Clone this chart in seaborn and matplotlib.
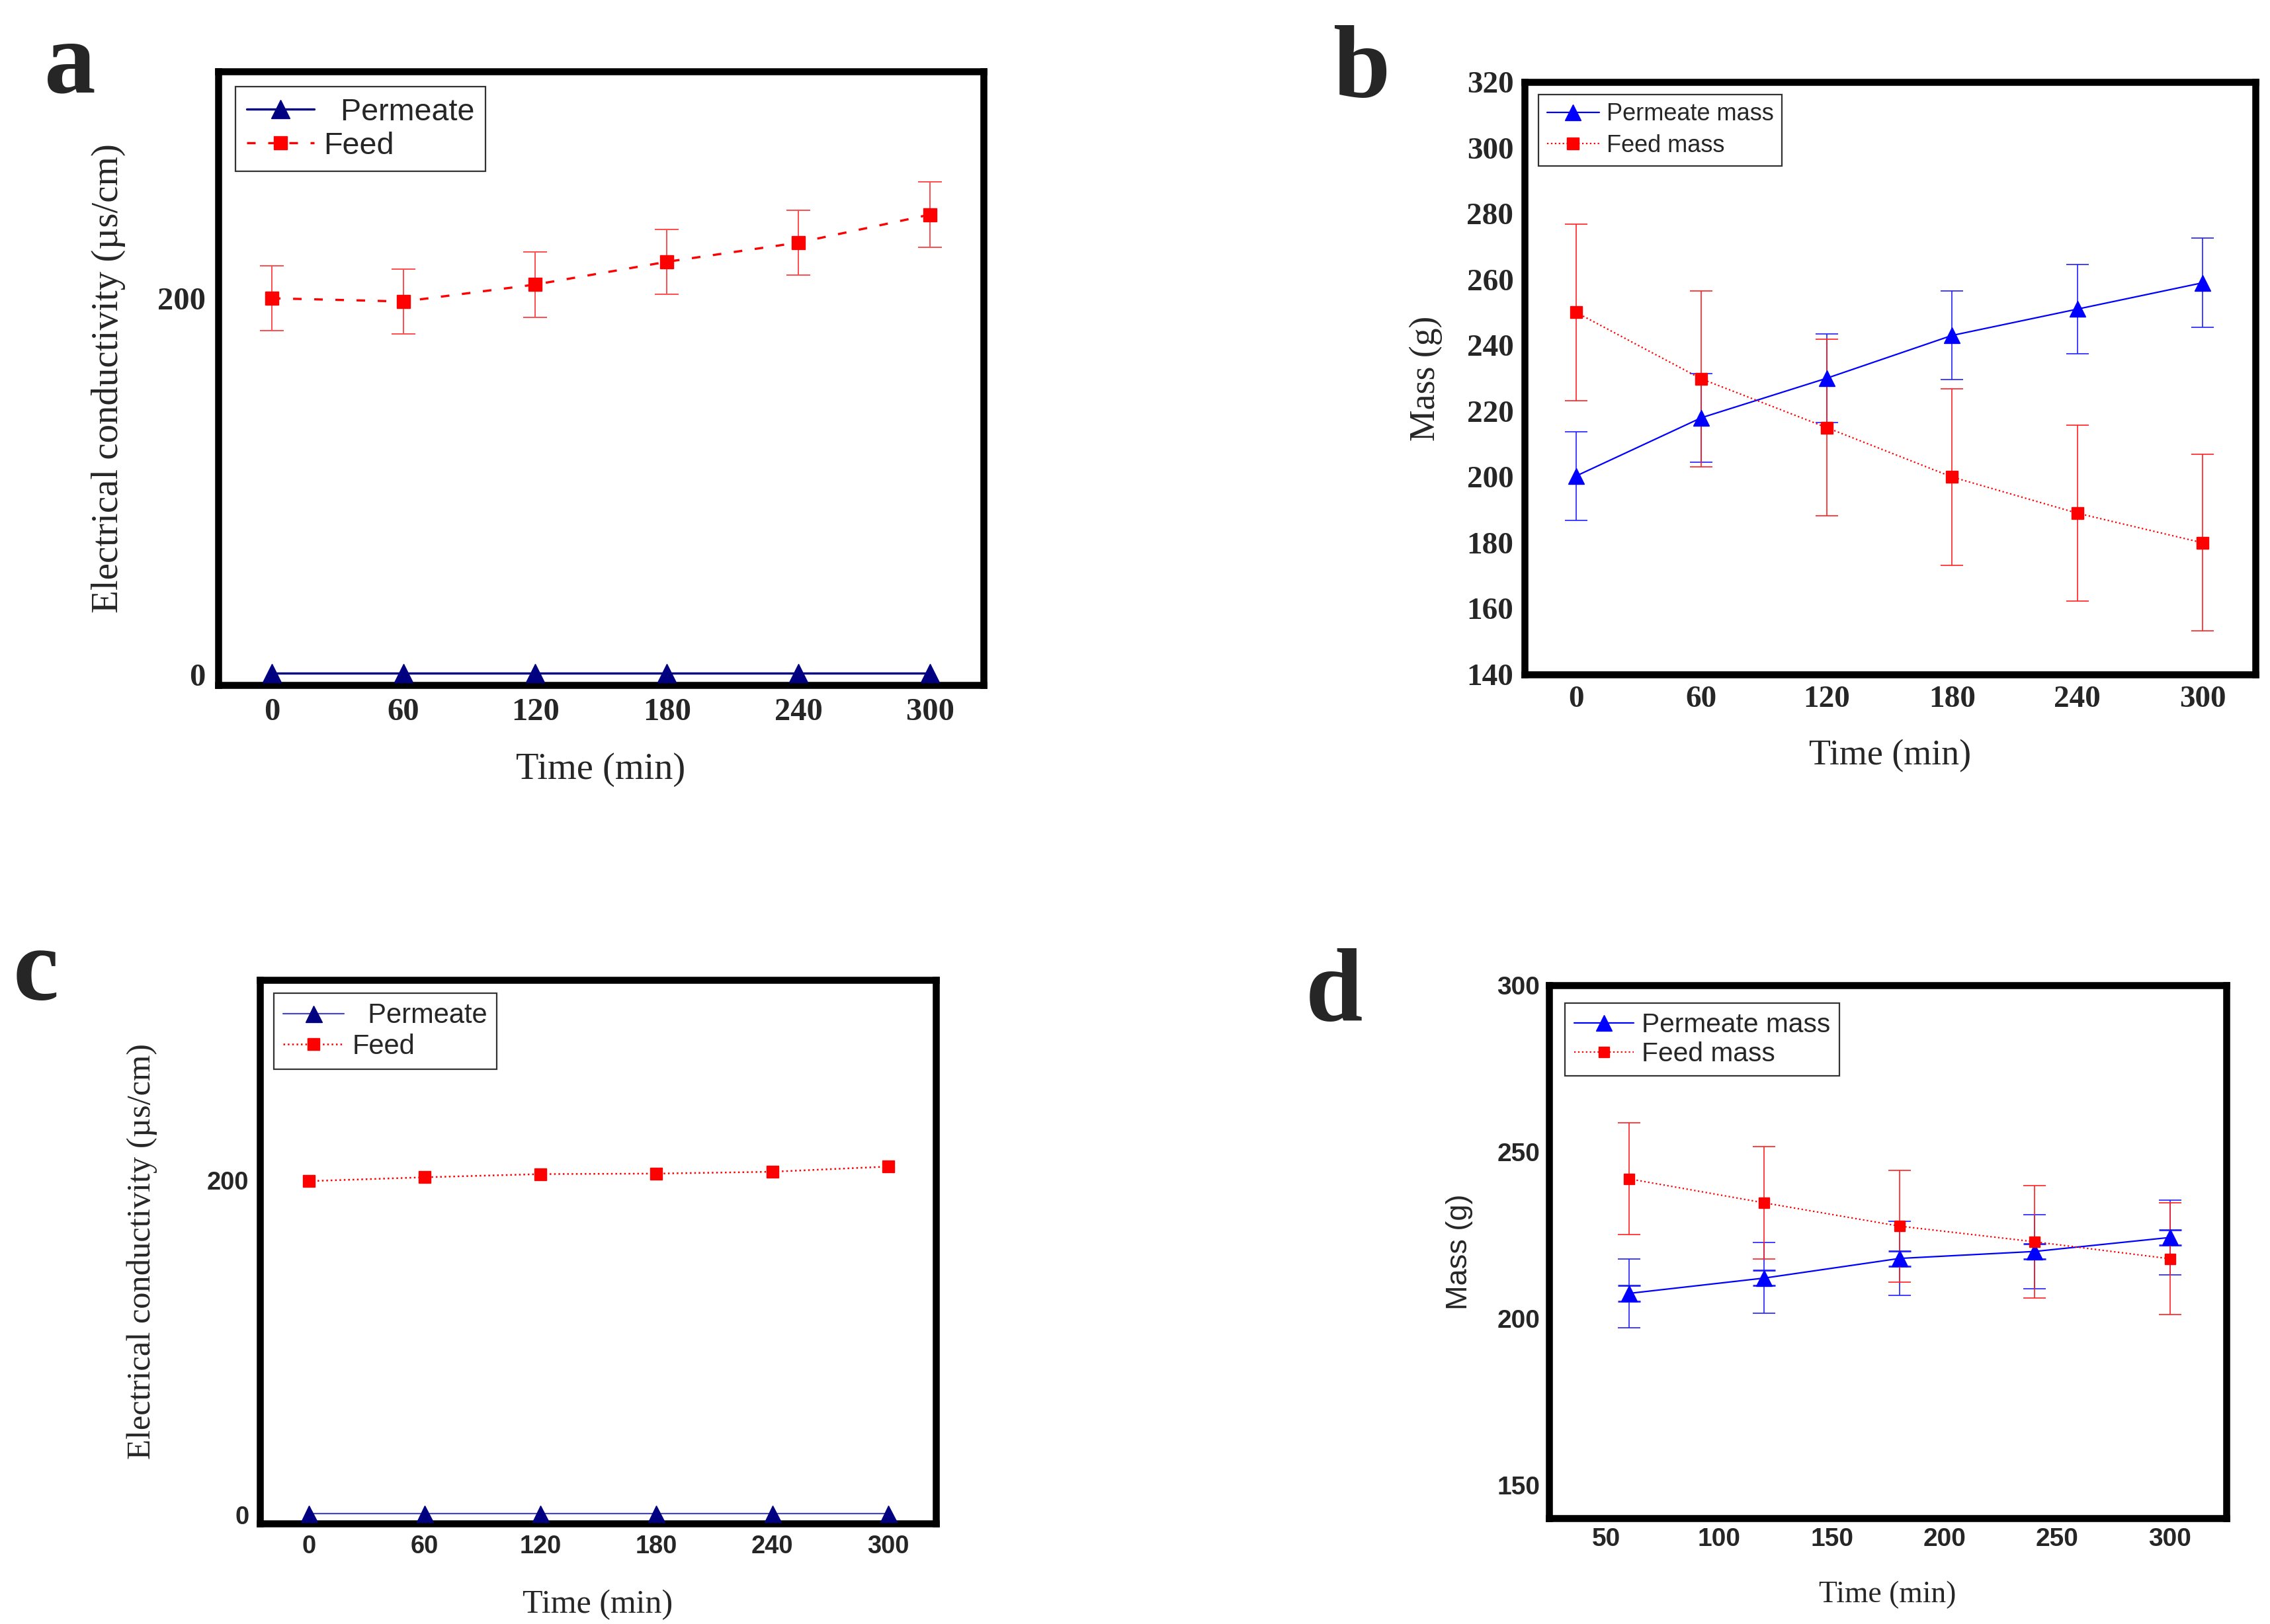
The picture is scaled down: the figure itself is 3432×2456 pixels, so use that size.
import matplotlib
matplotlib.use("Agg")
import matplotlib.pyplot as plt
from matplotlib import font_manager
import seaborn as sns

# ---- data ----
# a: electrical conductivity, run 1
time_a = [0, 60, 120, 180, 240, 300]
ec_feed_a = [200.0, 198.3, 207.3, 219.4, 229.6, 244.5]
ec_feed_a_err = [17.3, 17.3, 17.3, 17.3, 17.3, 17.3]
ec_perm_a = [0.8, 0.8, 0.8, 0.8, 0.8, 0.8]

# b: mass, run 1
time_b = [0, 60, 120, 180, 240, 300]
mass_perm_b = [200.3, 218.0, 230.0, 243.0, 251.0, 259.0]
mass_perm_b_err = [13.5, 13.5, 13.5, 13.5, 13.5, 13.5]
mass_feed_b = [250.0, 229.8, 215.0, 200.0, 189.0, 180.0]
mass_feed_b_err = [26.8, 26.8, 26.8, 26.8, 26.8, 26.8]

# c: electrical conductivity, run 2
time_c = [0, 60, 120, 180, 240, 300]
ec_feed_c = [199.7, 202.0, 203.9, 204.2, 205.3, 208.4]
ec_perm_c = [1.0, 1.0, 1.0, 1.0, 1.0, 1.0]

# d: mass, run 2
time_d = [60, 120, 180, 240, 300]
mass_perm_d = [207.5, 212.1, 218.0, 220.1, 224.3]
mass_perm_d_err = [10.4, 10.6, 11.1, 11.1, 11.2]
mass_perm_d_err2 = [2.3, 2.3, 2.3, 2.3, 2.3]
mass_feed_d = [241.9, 234.7, 227.7, 223.0, 217.9]
mass_feed_d_err = [16.8, 16.8, 16.8, 16.8, 16.8]

xticks_abc = [0, 60, 120, 180, 240, 300]
xticks_d = [50, 100, 150, 200, 250, 300]
yticks_ec = [0, 200]
yticks_b = [140, 160, 180, 200, 220, 240, 260, 280, 300, 320]
yticks_d = [150, 200, 250, 300]

sns.set_style("white")
plt.rcParams["font.family"] = ["Liberation Sans", "DejaVu Sans"]


def pick_font(names):
    for n in names:
        try:
            font_manager.findfont(font_manager.FontProperties(family=n), fallback_to_default=False)
            return n
        except ValueError:
            pass
    return "DejaVu Sans"


SERIF = pick_font(["Liberation Serif", "DejaVu Serif"])
SANS = pick_font(["Liberation Sans", "DejaVu Sans"])
NARROW = pick_font(["Liberation Sans Narrow", "Liberation Sans"])

fig = plt.figure(figsize=(17.16, 12.28), dpi=200)
ax_a = fig.add_axes([0.0962, 0.5782, 0.3371, 0.3778])
ax_b = fig.add_axes([0.6716, 0.5847, 0.3220, 0.3648])
ax_c = fig.add_axes([0.1145, 0.0619, 0.2978, 0.3347])
ax_d = fig.add_axes([0.6824, 0.0651, 0.2984, 0.3282])


def series(ax, x, y, color, marker, ms, ls, lw, label, mcolor=None):
    mc = mcolor or color
    sns.lineplot(x=x, y=y, ax=ax, color=color, marker=marker, markersize=ms,
                 markerfacecolor=mc, markeredgecolor=mc, markeredgewidth=0.5,
                 linestyle=ls, linewidth=lw, label=label, zorder=3)


def bars(ax, x, y, err, color, lw=0.7, cap=6):
    ax.errorbar(x, y, yerr=err, fmt="none", ecolor=color, elinewidth=lw,
                capsize=cap, capthick=lw, zorder=2)


def style_axes(ax, xlim, ylim, xticks, yticks, tick_font, tick_size, pad,
               xlabel, ylabel, xl_size, yl_size, yl_font, xpad, ypad):
    ax.set_xlim(*xlim)
    ax.set_ylim(*ylim)
    ax.set_xticks(xticks)
    ax.set_yticks(yticks)
    ax.tick_params(length=0, pad=pad)
    for t in ax.get_xticklabels() + ax.get_yticklabels():
        t.set_fontfamily(tick_font)
        t.set_fontweight("bold")
        t.set_fontsize(tick_size)
    ax.set_xlabel(xlabel, fontsize=xl_size, family=SERIF, labelpad=xpad)
    ax.set_ylabel(ylabel, fontsize=yl_size, family=yl_font, labelpad=ypad)
    for s in ax.spines.values():
        s.set_linewidth(3.8)
        s.set_color("black")
    ax.grid(False)


def legend(ax, size, anchor, spacing=0.2):
    ax.legend(loc="upper left", bbox_to_anchor=anchor, borderaxespad=0,
              prop={"family": SANS, "size": size}, frameon=True, fancybox=False,
              edgecolor="#333333", framealpha=1, handlelength=2.2,
              handletextpad=0.3, labelspacing=spacing, borderpad=0.35)
    ax.get_legend().get_frame().set_linewidth(0.8)


# ---- a ----
bars(ax_a, time_a, ec_feed_a, ec_feed_a_err, "#ff4d4d", lw=0.7, cap=6.5)
series(ax_a, time_a, ec_perm_a, "#000080", "^", 10, "-", 1.2, "  Permeate")
series(ax_a, time_a, ec_feed_a, "#ff0000", "s", 7.5, (0, (3.9, 5.7)), 1.2, "Feed")
style_axes(ax_a, (-24.4, 324.4), (-5.6, 320.6), xticks_abc, yticks_ec, SERIF, 17.5, 7,
           "Time (min)", "Electrical conductivity (\u00b5s/cm)", 20.3, 20.5, SERIF, 14, 17)
legend(ax_a, 16.8, (0.0225, 0.975), 0.15)

# ---- b ----
bars(ax_b, time_b, mass_perm_b, mass_perm_b_err, "#2020ff", lw=0.6, cap=6)
bars(ax_b, time_b, mass_feed_b, mass_feed_b_err, "#ff2020", lw=0.6, cap=6)
series(ax_b, time_b, mass_perm_b, "#0000ff", "^", 8.5, "-", 0.8, "Permeate mass")
series(ax_b, time_b, mass_feed_b, "#ff0000", "s", 6.5, ":", 0.8, "Feed mass")
style_axes(ax_b, (-24.7, 325.3), (140, 320), xticks_abc, yticks_b, SERIF, 17, 6,
           "Time (min)", "Mass (g)", 19.4, 19.3, SERIF, 14, 13)
legend(ax_b, 13, (0.019, 0.979), 0.35)

# ---- c ----
series(ax_c, time_c, ec_perm_c, "#4a4aaa", "^", 9, "-", 0.8, "  Permeate", mcolor="#000080")
series(ax_c, time_c, ec_feed_c, "#ff0000", "s", 6.2, ":", 0.9, "Feed")
style_axes(ax_c, (-25.3, 324.7), (-5, 320), xticks_abc, yticks_ec, NARROW, 13.7, 6,
           "Time (min)", "Electrical conductivity (\u00b5s/cm)", 18, 18.2, SERIF, 17, 27)
legend(ax_c, 15, (0.0205, 0.976), 0.15)

# ---- d ----
bars(ax_d, time_d, mass_perm_d, mass_perm_d_err, "#2020ff", lw=0.6, cap=6)
bars(ax_d, time_d, mass_perm_d, mass_perm_d_err2, "#2020ff", lw=1.0, cap=6)
bars(ax_d, time_d, mass_feed_d, mass_feed_d_err, "#ff2020", lw=0.6, cap=6)
series(ax_d, time_d, mass_perm_d, "#0000ff", "^", 8.5, "-", 0.8, "Permeate mass")
series(ax_d, time_d, mass_feed_d, "#ff0000", "s", 6, ":", 0.8, "Feed mass")
style_axes(ax_d, (24.6, 325), (140, 300), xticks_d, yticks_d, NARROW, 14, 5,
           "Time (min)", "Mass (g)", 16.4, 16.2, SANS, 16, 13)
legend(ax_d, 14.7, (0.023, 0.967), 0.15)

# ---- panel letters ----
for x, y, s in [(0.0195, 0.943, "a"), (0.587, 0.940, "b"),
                (0.0058, 0.3844, "c"), (0.575, 0.3717, "d")]:
    fig.text(x, y, s, fontsize=56, fontweight="bold", family=SERIF,
             ha="left", va="baseline")

fig.savefig("out.png", dpi=200)
